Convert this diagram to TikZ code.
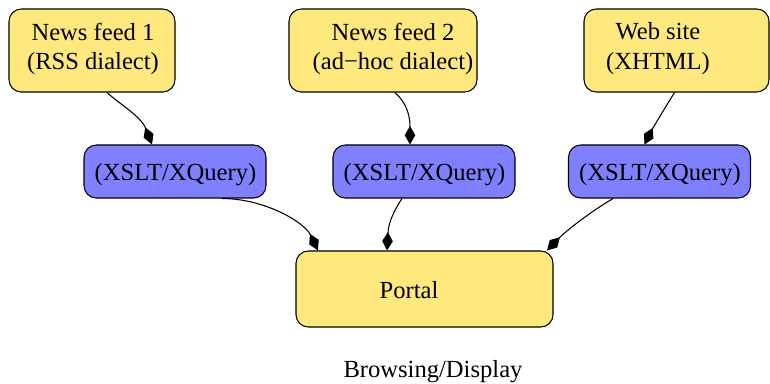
\documentclass[tikz,border=0pt]{standalone}
\usepackage{fontspec}
\setmainfont{Liberation Serif}
\usetikzlibrary{arrows.meta,calc}
\definecolor{boxyellow}{HTML}{FFE97F}
\definecolor{boxblue}{HTML}{8080FF}
\tikzset{
  srcbox/.style={draw=black, line width=0.6pt, fill=boxyellow, rounded corners=7pt, inner sep=0pt},
  xbox/.style={draw=black, line width=0.6pt, fill=boxblue, rounded corners=7pt, inner sep=0pt, minimum width=182*0.5695pt, minimum height=53*0.5695pt},
  txt/.style={font=\fontsize{14}{17}\selectfont, align=center, inner sep=0pt},
  link/.style={line width=0.6pt, -{Kite[length=10.5pt,width=6pt,inset=5.2pt]}},
}
\begin{document}
\begin{tikzpicture}[x=0.5695pt, y=-0.5695pt]
\useasboundingbox (0,0) rectangle (770,384);
% source boxes
\node[srcbox, minimum width=166*0.5695pt, minimum height=83*0.5695pt] (nf1) at (92,50.5) {};
\node[srcbox, minimum width=188*0.5695pt, minimum height=83*0.5695pt] (nf2) at (383,50.5) {};
\node[srcbox, minimum width=185*0.5695pt, minimum height=83*0.5695pt] (web) at (676.5,50.5) {};
\node[txt] (nf1t) at (93,49) {News feed 1\\(RSS dialect)};
\node[txt] (nf2t) at (393,49) {News feed 2\\(ad−hoc dialect)};
\node[txt] (webt) at (658,49) {Web site\\(XHTML)};
% transformation boxes
\node[xbox] (x1) at (175,171.5) {};
\node[xbox] (x2) at (424,171.5) {};
\node[xbox] (x3) at (659.5,171.5) {};
\node[txt] (x1t) at (175.5,174.5) {(XSLT/XQuery)};
\node[txt] (x2t) at (424.5,174.5) {(XSLT/XQuery)};
\node[txt] (x3t) at (660,174.5) {(XSLT/XQuery)};
% portal
\node[srcbox, minimum width=257*0.5695pt, minimum height=76*0.5695pt] (portal) at (424.5,289) {};
\node[txt] (portalt) at (409,290) {Portal};
\node[txt] (browse) at (433,372) {Browsing/Display};
% connectors
\draw[link] ($(nf1.south)+(15,0)$) .. controls ($(nf1.south)+(27,11)$) and ($(x1.north)+(-34,-28)$) .. ($(x1.north)+(-23,0)$);
\draw[link] ($(nf2.south)+(12,0)$) .. controls ($(nf2.south)+(23,10)$) and ($(x2.north)+(-14,-30)$) .. ($(x2.north)+(-14,0)$);
\draw[link] ($(web.south)+(-2,0)$) .. controls ($(web.south)+(-12,16)$) and ($(x3.north)+(-8,-14)$) .. ($(x3.north)+(-15,0)$);
\draw[link] ($(x1.south)+(47,0)$) .. controls ($(x1.south)+(90,0)$) and ($(portal.north)+(-120,-28)$) .. ($(portal.north)+(-106.5,0)$);
\draw[link] ($(x2.south)+(-22,0)$) .. controls ($(x2.south)+(-30,12)$) and ($(portal.north)+(-36,-28)$) .. ($(portal.north)+(-37.5,0)$);
\draw[link] ($(x3.south)+(-46.5,0)$) .. controls ($(x3.south)+(-70,14)$) and ($(portal.north)+(142,-20)$) .. ($(portal.north)+(122.5,0)$);
\end{tikzpicture}
\end{document}
